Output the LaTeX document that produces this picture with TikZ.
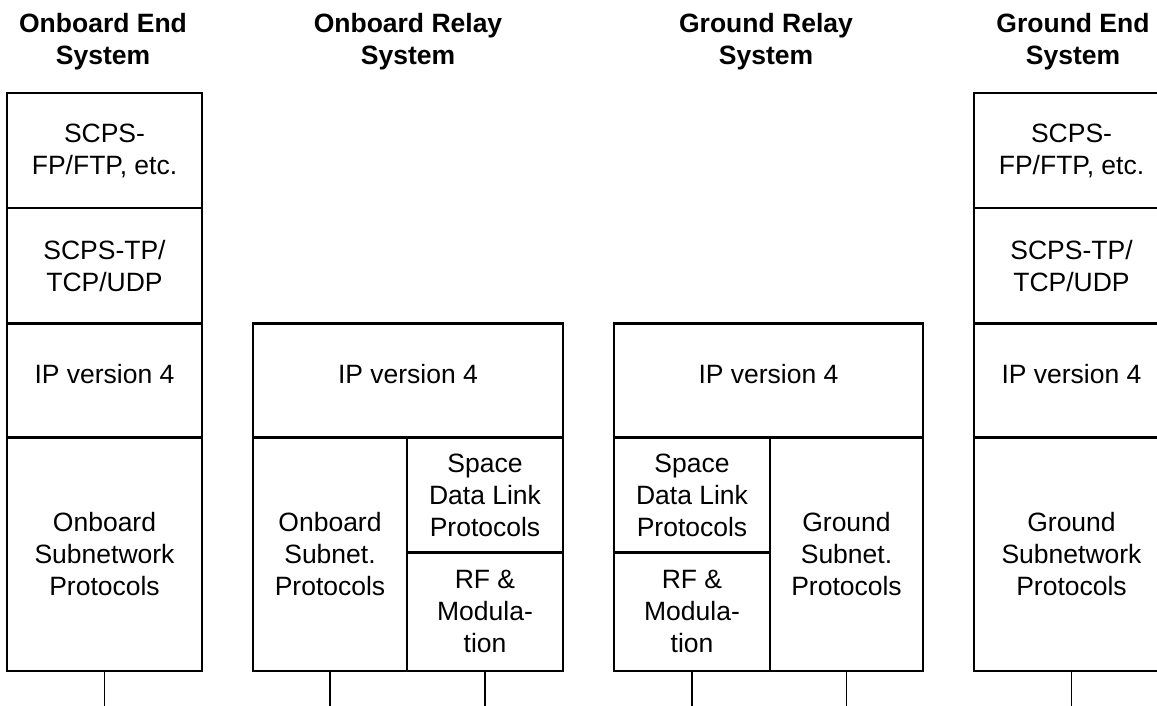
\documentclass[tikz,border=0pt]{standalone}
\usepackage{fontspec}
\setmainfont{Liberation Sans}
\usepackage{tikz}

\begin{document}
\begin{tikzpicture}[x=1pt,y=1pt,yscale=-1,xscale=1,
	cell/.style={draw, line width=2.5pt, align=center, inner sep=0pt, font=\fontsize{26.5}{32}\selectfont},
	ipcell/.style={cell, text depth=13pt},
	title/.style={align=center, inner sep=0pt, font=\fontsize{26.5}{32}\selectfont\bfseries},
	drop/.style={line width=1.2pt}]
	\useasboundingbox (0,0) rectangle (1157,706);
	\clip (0,0) rectangle (1157,706);
	\coordinate (bot) at (0,706);
	
	%Onboard End System
	\node[title] (obendt) at (103,42) {Onboard End\\System};
	\node[cell, minimum width=195, minimum height=115] (obapp) at (104.5,150.5) {SCPS-\\FP/FTP, etc.};
	\node[cell, minimum width=195, minimum height=115.5] (obtp) at (104.5,265.75) {SCPS-TP/\\TCP/UDP};
	\node[ipcell, minimum width=195, minimum height=114] (obip) at (104.5,380.5) {IP version 4};
	\node[cell, minimum width=195, minimum height=233.5] (obnet) at (104.5,554.25) {Onboard\\Subnetwork\\Protocols};
	
	%Onboard Relay System
	\node[title] (obrelt) at (408,42) {Onboard Relay\\System};
	\node[ipcell, minimum width=310, minimum height=114] (obrip) at (408,380.5) {IP version 4};
	\node[cell, minimum width=154, minimum height=233.5] (obsubn) at (330,554.25) {Onboard\\Subnet.\\Protocols};
	\node[cell, minimum width=156, minimum height=115] (obsdl) at (485,495) {Space\\Data Link\\Protocols};
	\node[cell, minimum width=156, minimum height=118.5] (obrf) at (485,611.75) {RF \&\\Modula-\\tion};
	
	%Ground Relay System
	\node[title] (grelt) at (766,42) {Ground Relay\\System};
	\node[ipcell, minimum width=309, minimum height=114] (grip) at (768.5,380.5) {IP version 4};
	\node[cell, minimum width=156, minimum height=115] (gsdl) at (692,495) {Space\\Data Link\\Protocols};
	\node[cell, minimum width=156, minimum height=118.5] (grf) at (692,611.75) {RF \&\\Modula-\\tion};
	\node[cell, minimum width=153, minimum height=233.5] (gsubn) at (846.5,554.25) {Ground\\Subnet.\\Protocols};
	
	%Ground End System
	\node[title] (gendt) at (1073,42) {Ground End\\System};
	\node[cell, minimum width=195, minimum height=115] (gapp) at (1071.5,150.5) {SCPS-\\FP/FTP, etc.};
	\node[cell, minimum width=195, minimum height=115.5] (gtp) at (1071.5,265.75) {SCPS-TP/\\TCP/UDP};
	\node[ipcell, minimum width=195, minimum height=114] (gip) at (1071.5,380.5) {IP version 4};
	\node[cell, minimum width=195, minimum height=233.5] (gnet) at (1071.5,554.25) {Ground\\Subnetwork\\Protocols};
	
	%Straight Lines
	\draw[drop] (obnet.south) -- (obnet.south |- bot);
	\draw[drop] (obsubn.south) -- (obsubn.south |- bot);
	\draw[drop] (obrf.south) -- (obrf.south |- bot);
	\draw[drop] (grf.south) -- (grf.south |- bot);
	\draw[drop] (gsubn.south) -- (gsubn.south |- bot);
	\draw[drop] (gnet.south) -- (gnet.south |- bot);
\end{tikzpicture}
\end{document}
